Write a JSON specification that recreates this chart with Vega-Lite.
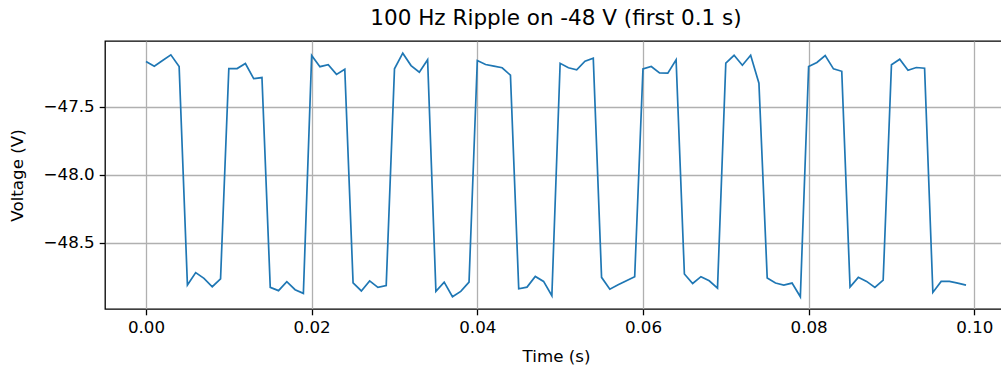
{
  "$schema": "https://vega.github.io/schema/vega-lite/v6.json",
  "autosize": {"type": "none"},
  "padding": {"left": 105, "top": 41, "right": 0, "bottom": 56},
  "width": 902,
  "height": 268,
  "background": "white",
  "title": {
    "text": "100 Hz Ripple on -48 V (first 0.1 s)",
    "font": "DejaVu Sans",
    "fontSize": 21.5,
    "fontWeight": "normal",
    "color": "black",
    "anchor": "middle",
    "baseline": "alphabetic",
    "offset": -5
  },
  "config": {
    "font": "DejaVu Sans",
    "view": {"stroke": "black", "strokeWidth": 1.3},
    "axis": {
      "domain": false,
      "grid": true,
      "gridColor": "#b0b0b0",
      "gridWidth": 1.3,
      "ticks": true,
      "tickColor": "black",
      "tickWidth": 1.3,
      "tickSize": 5.8,
      "labelFont": "DejaVu Sans",
      "labelFontSize": 16.7,
      "labelColor": "black",
      "titleFont": "DejaVu Sans",
      "titleFontSize": 16.7,
      "titleFontWeight": "normal",
      "titleColor": "black"
    }
  },
  "data": {
    "values": [
      {"t": 0.000, "v": -47.166}, {"t": 0.001, "v": -47.200}, {"t": 0.002, "v": -47.159}, {"t": 0.003, "v": -47.117}, {"t": 0.004, "v": -47.203},
      {"t": 0.005, "v": -48.812}, {"t": 0.006, "v": -48.720}, {"t": 0.007, "v": -48.762}, {"t": 0.008, "v": -48.824}, {"t": 0.009, "v": -48.767},
      {"t": 0.010, "v": -47.218}, {"t": 0.011, "v": -47.218}, {"t": 0.012, "v": -47.181}, {"t": 0.013, "v": -47.292}, {"t": 0.014, "v": -47.284},
      {"t": 0.015, "v": -48.829}, {"t": 0.016, "v": -48.853}, {"t": 0.017, "v": -48.787}, {"t": 0.018, "v": -48.846}, {"t": 0.019, "v": -48.873},
      {"t": 0.020, "v": -47.122}, {"t": 0.021, "v": -47.204}, {"t": 0.022, "v": -47.190}, {"t": 0.023, "v": -47.261}, {"t": 0.024, "v": -47.223},
      {"t": 0.025, "v": -48.795}, {"t": 0.026, "v": -48.855}, {"t": 0.027, "v": -48.781}, {"t": 0.028, "v": -48.829}, {"t": 0.029, "v": -48.816},
      {"t": 0.030, "v": -47.220}, {"t": 0.031, "v": -47.105}, {"t": 0.032, "v": -47.196}, {"t": 0.033, "v": -47.245}, {"t": 0.034, "v": -47.153},
      {"t": 0.035, "v": -48.858}, {"t": 0.036, "v": -48.790}, {"t": 0.037, "v": -48.898}, {"t": 0.038, "v": -48.858}, {"t": 0.039, "v": -48.790},
      {"t": 0.040, "v": -47.159}, {"t": 0.041, "v": -47.188}, {"t": 0.042, "v": -47.200}, {"t": 0.043, "v": -47.212}, {"t": 0.044, "v": -47.267},
      {"t": 0.045, "v": -48.839}, {"t": 0.046, "v": -48.827}, {"t": 0.047, "v": -48.748}, {"t": 0.048, "v": -48.785}, {"t": 0.049, "v": -48.890},
      {"t": 0.050, "v": -47.179}, {"t": 0.051, "v": -47.212}, {"t": 0.052, "v": -47.227}, {"t": 0.053, "v": -47.164}, {"t": 0.054, "v": -47.142},
      {"t": 0.055, "v": -48.755}, {"t": 0.056, "v": -48.842}, {"t": 0.057, "v": -48.810}, {"t": 0.058, "v": -48.780}, {"t": 0.059, "v": -48.750},
      {"t": 0.060, "v": -47.220}, {"t": 0.061, "v": -47.203}, {"t": 0.062, "v": -47.250}, {"t": 0.063, "v": -47.252}, {"t": 0.064, "v": -47.153},
      {"t": 0.065, "v": -48.730}, {"t": 0.066, "v": -48.800}, {"t": 0.067, "v": -48.750}, {"t": 0.068, "v": -48.780}, {"t": 0.069, "v": -48.834},
      {"t": 0.070, "v": -47.178}, {"t": 0.071, "v": -47.120}, {"t": 0.072, "v": -47.193}, {"t": 0.073, "v": -47.120}, {"t": 0.074, "v": -47.326},
      {"t": 0.075, "v": -48.760}, {"t": 0.076, "v": -48.797}, {"t": 0.077, "v": -48.812}, {"t": 0.078, "v": -48.797}, {"t": 0.079, "v": -48.898},
      {"t": 0.080, "v": -47.203}, {"t": 0.081, "v": -47.173}, {"t": 0.082, "v": -47.122}, {"t": 0.083, "v": -47.220}, {"t": 0.084, "v": -47.238},
      {"t": 0.085, "v": -48.826}, {"t": 0.086, "v": -48.755}, {"t": 0.087, "v": -48.785}, {"t": 0.088, "v": -48.829}, {"t": 0.089, "v": -48.775},
      {"t": 0.090, "v": -47.190}, {"t": 0.091, "v": -47.149}, {"t": 0.092, "v": -47.230}, {"t": 0.093, "v": -47.210}, {"t": 0.094, "v": -47.215},
      {"t": 0.095, "v": -48.866}, {"t": 0.096, "v": -48.785}, {"t": 0.097, "v": -48.785}, {"t": 0.098, "v": -48.797}, {"t": 0.099, "v": -48.812}
    ]
  },
  "mark": {"type": "line", "color": "#1f77b4", "strokeWidth": 1.7, "clip": true},
  "encoding": {
    "x": {
      "field": "t",
      "type": "quantitative",
      "scale": {"domain": [-0.00495, 0.10395], "nice": false, "zero": false},
      "axis": {
        "title": "Time (s)",
        "values": [0, 0.02, 0.04, 0.06, 0.08, 0.10],
        "format": ".2f",
        "labelPadding": 5,
        "titleBaseline": "alphabetic",
        "titleY": 52
      }
    },
    "y": {
      "field": "v",
      "type": "quantitative",
      "scale": {"domain": [-48.988, -47.015], "nice": false, "zero": false},
      "axis": {
        "title": "Voltage (V)",
        "values": [-48.5, -48.0, -47.5],
        "format": ".1f",
        "labelPadding": 5,
        "titleAngle": 270,
        "titleBaseline": "alphabetic",
        "titleAlign": "center",
        "titleX": -83,
        "titleY": 134
      }
    }
  }
}
